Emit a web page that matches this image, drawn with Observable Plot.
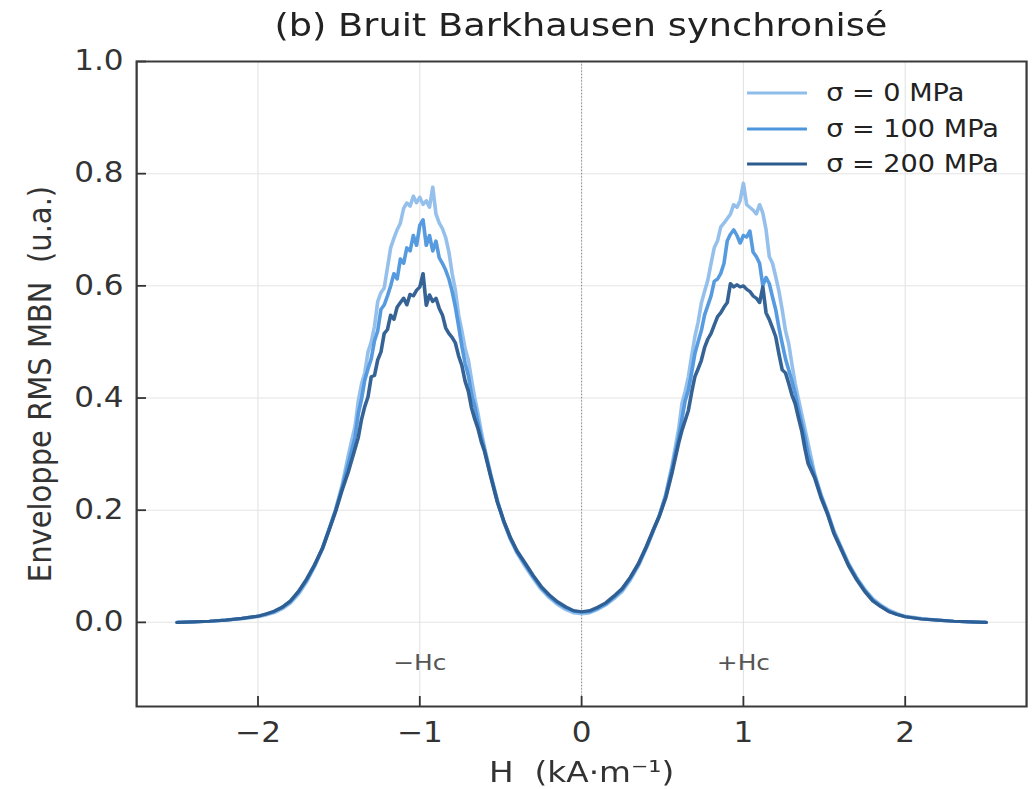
<!DOCTYPE html>
<html>
<head>
<meta charset="utf-8">
<script src="https://cdn.jsdelivr.net/npm/d3@7"></script>
<script src="https://cdn.jsdelivr.net/npm/@observablehq/plot@0.6"></script>
<style>
  html, body { margin: 0; padding: 0; background: white; overflow: hidden; }
  #wrap { position: relative; width: 914px; height: 789px; transform: scaleX(1.1302); transform-origin: 0 0; font-family: "DejaVu Sans", sans-serif; }
  #title { position: absolute; left: 0; top: 9px; width: 1028px; text-align: center; font-size: 32.5px; line-height: 33px; color: #222; }
  #legend { position: absolute; left: 661px; top: 75px; font-size: 24px; color: #222; }
  .row { position: absolute; left: 0; height: 36px; white-space: nowrap; display: flex; align-items: center; }
  .row svg { width: 53px; height: 6px; margin-right: 17px; }
</style>
</head>
<body>
<div id="wrap">
  <div id="title">(b) Bruit Barkhausen synchronisé</div>
  <div id="chart"></div>
  <div id="legend"></div>
</div>
<script>
// ---- data ----
const seriesNames = ["σ = 0 MPa", "σ = 100 MPa", "σ = 200 MPa"];
const seriesColors = ["#8fbdeb", "#4d95dd", "#2b5b8f"];
const xTicks = [-2, -1, 0, 1, 2];
const yTicks = [0, 0.2, 0.4, 0.6, 0.8, 1.0];
const titleText = "(b) Bruit Barkhausen synchronisé";
const xLabel = "H  (kA·m⁻¹)";
const yLabel = "Enveloppe RMS MBN  (u.a.)";
const hcLabels = ["−Hc", "+Hc"];
const hcX = [-1, 1];
const hcY = [-0.072, -0.072];

const H = [
  -2.5,-2.4,-2.3,-2.2,-2.1,-2.0,-1.95,-1.9,-1.85,-1.8,-1.75,-1.7,-1.65,-1.6,-1.56,-1.52,-1.48,-1.44,
  -1.40,-1.38,-1.36,-1.34,-1.32,-1.30,-1.28,-1.26,-1.24,-1.22,-1.20,-1.18,-1.16,-1.14,-1.12,-1.10,-1.08,-1.06,-1.04,-1.02,
  -1.00,-0.98,-0.96,-0.94,-0.92,-0.90,-0.88,-0.86,-0.84,-0.82,-0.80,-0.78,-0.76,-0.74,-0.72,-0.70,-0.68,-0.66,-0.64,-0.62,-0.60,
  -0.56,-0.52,-0.48,-0.44,-0.40,-0.35,-0.30,-0.25,-0.20,-0.15,-0.10,-0.05,0,0.05,0.10,0.15,0.20,0.25,0.30,0.35,0.40,0.44,0.48,0.52,0.56,
  0.60,0.62,0.64,0.66,0.68,0.70,0.72,0.74,0.76,0.78,0.80,0.82,0.84,0.86,0.88,0.90,0.92,0.94,0.96,0.98,
  1.00,1.02,1.04,1.06,1.08,1.10,1.12,1.14,1.16,1.18,1.20,1.22,1.24,1.26,1.28,1.30,1.32,1.34,1.36,1.38,1.40,
  1.44,1.48,1.52,1.56,1.60,1.65,1.70,1.75,1.80,1.85,1.90,1.95,2.0,2.1,2.2,2.3,2.4,2.5
];

const sigma0 = [
  0.000,0.001,0.002,0.004,0.006,0.010,0.013,0.017,0.024,0.034,0.050,0.072,0.100,0.132,0.166,0.202,0.245,0.300,
  0.350,0.395,0.425,0.445,0.482,0.500,0.528,0.572,0.588,0.596,0.632,0.668,0.685,0.700,0.712,0.738,0.748,0.742,0.760,0.748,
  0.758,0.745,0.752,0.740,0.776,0.728,0.712,0.702,0.686,0.660,0.622,0.592,0.548,0.520,0.488,0.468,0.432,0.400,0.372,0.340,0.312,
  0.262,0.217,0.178,0.148,0.124,0.100,0.079,0.059,0.044,0.032,0.023,0.017,0.015,0.017,0.023,0.031,0.042,0.055,0.075,0.100,0.132,0.160,0.190,0.228,0.282,
  0.345,0.390,0.412,0.438,0.475,0.509,0.535,0.569,0.590,0.610,0.640,0.668,0.680,0.705,0.712,0.720,0.728,0.745,0.740,0.752,
  0.783,0.745,0.740,0.735,0.728,0.745,0.730,0.700,0.652,0.640,0.616,0.590,0.557,0.520,0.497,0.460,0.426,0.398,0.372,0.345,0.319,
  0.265,0.228,0.197,0.163,0.137,0.105,0.080,0.059,0.042,0.031,0.022,0.016,0.011,0.007,0.004,0.002,0.001,0.000
];

const sigma100 = [
  0.000,0.001,0.002,0.004,0.007,0.011,0.015,0.019,0.027,0.037,0.054,0.075,0.101,0.134,0.167,0.200,0.240,0.285,
  0.330,0.372,0.398,0.432,0.452,0.470,0.502,0.520,0.558,0.566,0.582,0.600,0.622,0.612,0.648,0.640,0.668,0.662,0.690,0.672,
  0.708,0.718,0.672,0.690,0.662,0.680,0.650,0.640,0.628,0.612,0.590,0.562,0.528,0.492,0.462,0.440,0.405,0.385,0.356,0.330,0.308,
  0.260,0.215,0.179,0.150,0.126,0.104,0.082,0.062,0.047,0.035,0.026,0.020,0.018,0.019,0.025,0.033,0.045,0.058,0.078,0.103,0.134,0.162,0.190,0.226,0.275,
  0.330,0.362,0.395,0.414,0.445,0.479,0.500,0.520,0.548,0.565,0.582,0.608,0.612,0.622,0.640,0.680,0.692,0.700,0.690,0.676,
  0.690,0.687,0.698,0.660,0.652,0.640,0.600,0.615,0.604,0.580,0.557,0.525,0.497,0.470,0.450,0.430,0.408,0.380,0.355,0.330,0.300,
  0.262,0.225,0.195,0.160,0.135,0.103,0.078,0.057,0.040,0.029,0.020,0.014,0.010,0.006,0.004,0.002,0.001,0.000
];

const sigma200 = [
  0.000,0.001,0.002,0.004,0.007,0.011,0.015,0.020,0.027,0.038,0.055,0.077,0.103,0.133,0.165,0.198,0.236,0.270,
  0.310,0.330,0.362,0.385,0.402,0.438,0.440,0.468,0.482,0.515,0.522,0.548,0.540,0.562,0.570,0.578,0.566,0.585,0.582,0.592,
  0.598,0.622,0.565,0.584,0.572,0.578,0.560,0.548,0.525,0.515,0.508,0.498,0.475,0.458,0.430,0.412,0.382,0.362,0.345,0.322,0.305,
  0.258,0.214,0.180,0.151,0.128,0.106,0.084,0.064,0.049,0.037,0.028,0.021,0.019,0.021,0.027,0.035,0.047,0.060,0.080,0.104,0.135,0.163,0.189,0.222,0.268,
  0.320,0.342,0.360,0.378,0.410,0.438,0.452,0.467,0.490,0.505,0.515,0.530,0.545,0.552,0.562,0.570,0.604,0.598,0.602,0.598,
  0.600,0.594,0.590,0.582,0.578,0.570,0.598,0.552,0.540,0.525,0.509,0.478,0.450,0.445,0.426,0.405,0.390,0.365,0.342,0.310,0.283,
  0.258,0.222,0.193,0.158,0.133,0.101,0.076,0.055,0.038,0.028,0.019,0.014,0.010,0.006,0.004,0.002,0.001,0.000
];

// ---- build table ----
const seriesValues = [sigma0, sigma100, sigma200];
const table = [];
seriesValues.forEach((vals, s) => {
  H.forEach((h, i) => table.push({H: h, v: vals[i], s: seriesNames[s]}));
});

const W = 914, HT = 789;
const mL = 120.4, mR = 6.2, mT = 61, mB = 83;
const frameW = W - mL - mR, frameH = HT - mT - mB;

const chart = Plot.plot({
  width: W,
  height: HT,
  marginLeft: mL,
  marginRight: mR,
  marginTop: mT,
  marginBottom: mB,
  style: {fontFamily: "DejaVu Sans", background: "white", overflow: "visible"},
  x: {domain: [-2.75, 2.75]},
  y: {domain: [-0.15, 1.0]},
  color: {domain: seriesNames, range: seriesColors},
  marks: [
    Plot.gridX(xTicks, {stroke: "#e4e4e4", strokeOpacity: 1, strokeWidth: 1}),
    Plot.gridY(yTicks, {stroke: "#e4e4e4", strokeOpacity: 1, strokeWidth: 1}),
    Plot.ruleX([0], {stroke: "#8a8a8a", strokeWidth: 0.9, strokeDasharray: "1.2,2"}),
    Plot.line(table, {x: "H", y: "v", z: "s", stroke: "s", strokeWidth: 3.2, strokeOpacity: 0.95, strokeLinejoin: "round"}),
    Plot.text(hcLabels, {x: (d, i) => hcX[i], y: (d, i) => hcY[i], text: d => d, fontSize: 22, fill: "#555"}),
    Plot.ruleX(xTicks, {insetTop: frameH - 10, stroke: "#333", strokeWidth: 1.6}),
    Plot.ruleY(yTicks, {insetRight: frameW - 8.8, stroke: "#333", strokeWidth: 1.8}),
    Plot.axisX(xTicks, {tickSize: 0, tickPadding: 16, fontSize: 27.5, fill: "#333", tickFormat: d3.format("d"), label: null}),
    Plot.axisY(yTicks, {tickSize: 0, tickPadding: 11.5, fontSize: 27.5, fill: "#333", tickFormat: d3.format(".1f"), label: null}),
    Plot.text([xLabel], {frameAnchor: "bottom", dy: 66, textAnchor: "middle", lineAnchor: "middle", text: d => d, fontSize: 29, fill: "#333"}),
    Plot.text([yLabel], {frameAnchor: "left", dx: -85, rotate: -90, textAnchor: "middle", lineAnchor: "middle", text: d => d, fontSize: 29, fill: "#333"}),
    Plot.frame({stroke: "#3a3a3a", strokeWidth: 2})
  ]
});
document.getElementById("chart").appendChild(chart);

// ---- legend ----
const legend = document.getElementById("legend");
seriesNames.forEach((name, i) => {
  const row = document.createElement("div");
  row.className = "row";
  row.style.top = (i * 35.5) + "px";
  row.innerHTML = `<svg viewBox="0 0 53 6"><line x1="0" y1="3" x2="53" y2="3" stroke="${seriesColors[i]}" stroke-width="3.2"/></svg><span>${name}</span>`;
  legend.appendChild(row);
});
document.getElementById("title").textContent = titleText;
</script>
</body>
</html>
